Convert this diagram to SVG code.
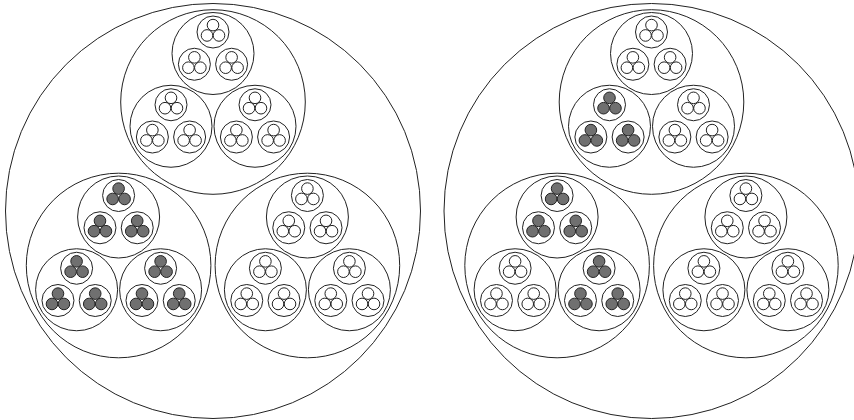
<svg xmlns="http://www.w3.org/2000/svg" width="854" height="420" viewBox="0 0 854 420">
<style>
.c{fill:none;stroke:#222;stroke-width:1}
.f{fill:#707070;stroke:#222;stroke-width:1}
</style>
<rect width="854" height="420" fill="#fff"/>
<defs>
<g id="l3e"><circle r="16" class="c"/><circle cy="-6.9" r="5.8" class="c"/><circle cx="-5.98" cy="3.45" r="5.8" class="c"/><circle cx="5.98" cy="3.45" r="5.8" class="c"/></g>
<g id="l3f"><circle r="16" class="c"/><circle cy="-6.9" r="5.8" class="f"/><circle cx="-5.98" cy="3.45" r="5.8" class="f"/><circle cx="5.98" cy="3.45" r="5.8" class="f"/></g>
<g id="l2e"><circle r="41" class="c"/><use href="#l3e" x="0" y="-21.5"/><use href="#l3e" x="-18.62" y="10.75"/><use href="#l3e" x="18.62" y="10.75"/></g>
<g id="l2f"><circle r="41" class="c"/><use href="#l3f" x="0" y="-21.5"/><use href="#l3f" x="-18.62" y="10.75"/><use href="#l3f" x="18.62" y="10.75"/></g>
<g id="l1e"><circle r="92.3" class="c"/><use href="#l2e" x="0" y="-48.5"/><use href="#l2e" x="-42" y="24.25"/><use href="#l2e" x="42" y="24.25"/></g>
<g id="l1f"><circle r="92.3" class="c"/><use href="#l2f" x="0" y="-48.5"/><use href="#l2f" x="-42" y="24.25"/><use href="#l2f" x="42" y="24.25"/></g>
</defs>
<g id="left" transform="translate(213,211)">
<circle r="207.5" class="c"/>
<use id="left-top" href="#l1e" x="0" y="-109"/>
<use id="left-bl" href="#l1f" x="-94.4" y="54.5"/>
<use id="left-br" href="#l1e" x="94.4" y="54.5"/>
</g>
<g id="right" transform="translate(651.5,211)">
<circle r="207.5" class="c"/>
<g id="right-top" transform="translate(0,-109)">
<circle r="92.3" class="c"/>
<use href="#l2e" x="0" y="-48.5"/>
<use href="#l2f" x="-42" y="24.25"/>
<use href="#l2e" x="42" y="24.25"/>
</g>
<g id="right-bl" transform="translate(-94.4,54.5)">
<circle r="92.3" class="c"/>
<use href="#l2f" x="0" y="-48.5"/>
<use href="#l2e" x="-42" y="24.25"/>
<use href="#l2f" x="42" y="24.25"/>
</g>
<use id="right-br" href="#l1e" x="94.4" y="54.5"/>
</g>
</svg>
